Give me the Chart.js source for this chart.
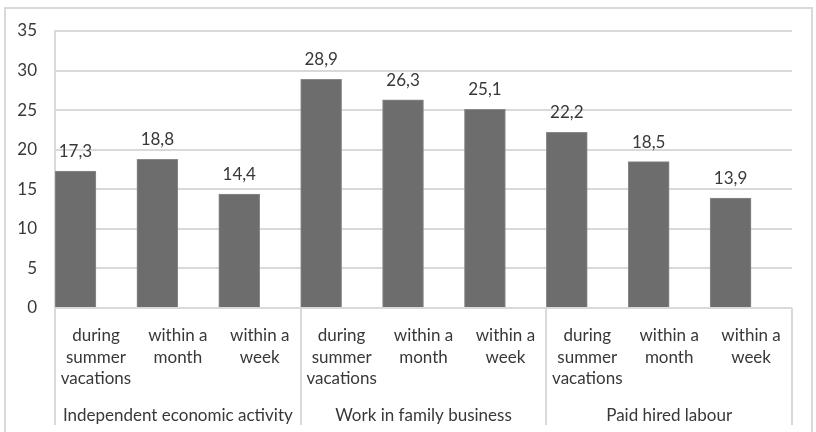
<!DOCTYPE html>
<html>
<head>
<meta charset="utf-8">
<script src="https://cdn.jsdelivr.net/npm/chart.js@4/dist/chart.umd.min.js"></script>
<style>
  html, body { margin: 0; padding: 0; background: #fff; }
  #wrap { width: 816px; height: 432px; position: relative; }
</style>
</head>
<body>
<div id="wrap"><canvas id="chart"></canvas></div>
<script>
var periods = [
  ["during", "summer", "vacations"], ["within a", "month"], ["within a", "week"],
  ["during", "summer", "vacations"], ["within a", "month"], ["within a", "week"],
  ["during", "summer", "vacations"], ["within a", "month"], ["within a", "week"]
];
var groups = ["Independent economic activity", "Work in family business", "Paid hired labour"];
var shares = [17.3, 18.8, 14.4, 28.9, 26.3, 25.1, 22.2, 18.5, 13.9];
var yTicks = [0, 5, 10, 15, 20, 25, 30, 35];

var textColor = "#383838";
var lineColor = "#d9d9d9";
var fontFamily = "Lato, 'Noto Sans', sans-serif";

// frame round the whole picture
var framePlugin = {
  id: "frame",
  beforeDraw: function (chart) {
    var ctx = chart.ctx;
    ctx.save();
    ctx.fillStyle = "#fff";
    ctx.fillRect(0, 0, chart.width, chart.height);
    ctx.strokeStyle = lineColor;
    ctx.lineWidth = 2;
    ctx.strokeRect(5, 8, 807, 440);
    ctx.restore();
  }
};

// value labels above the bars
var valuePlugin = {
  id: "values",
  afterDatasetsDraw: function (chart) {
    var ctx = chart.ctx;
    var meta = chart.getDatasetMeta(0);
    ctx.save();
    ctx.font = "17px " + fontFamily;
    ctx.fillStyle = textColor;
    ctx.textAlign = "center";
    ctx.textBaseline = "alphabetic";
    meta.data.forEach(function (bar, i) {
      var v = chart.data.datasets[0].data[i];
      ctx.fillText(v.toFixed(1).replace(".", ","), bar.x, bar.y - 14);
    });
    ctx.restore();
  }
};

var ctx = document.getElementById("chart").getContext("2d");
new Chart(ctx, {
  type: "bar",
  data: {
    labels: periods,
    datasets: [
      {
        data: shares,
        backgroundColor: "#6d6d6d",
        borderColor: "#8a8a8a",
        borderWidth: 1,
        categoryPercentage: 1,
        barPercentage: 1
      },
      {
        // empty slot: bars sit in the left half of each category
        data: shares.map(function () { return null; }),
        backgroundColor: "transparent",
        categoryPercentage: 1,
        barPercentage: 1
      }
    ]
  },
  options: {
    responsive: true,
    maintainAspectRatio: false,
    animation: false,
    layout: { padding: { left: 0, top: 31, right: 24, bottom: 0 } },
    plugins: {
      legend: { display: false },
      tooltip: { enabled: false }
    },
    scales: {
      y: {
        min: 0,
        max: 35,
        afterBuildTicks: function (scale) {
          scale.ticks = yTicks.map(function (v) { return { value: v }; });
        },
        afterFit: function (scale) { scale.width = 55; },
        grid: { color: lineColor, lineWidth: 2, drawTicks: false },
        border: { display: true, color: lineColor, width: 2 },
        ticks: {
          padding: 18,
          color: textColor,
          font: { family: fontFamily, size: 17 }
        }
      },
      x: {
        position: "bottom",
        afterFit: function (scale) { scale.height = 90; },
        grid: {
          offset: true,
          drawOnChartArea: false,
          drawTicks: true,
          tickLength: 117,
          lineWidth: 2,
          color: function (c) {
            return (c.index === undefined || c.index % 3 === 0) ? lineColor : "transparent";
          }
        },
        border: { display: false },
        ticks: {
          padding: -100,
          maxRotation: 0,
          autoSkip: false,
          color: textColor,
          font: { family: fontFamily, size: 17, lineHeight: 1.27 }
        }
      },
      x2: {
        type: "category",
        position: "bottom",
        labels: groups,
        offset: true,
        afterFit: function (scale) { scale.height = 34; },
        grid: { display: false },
        border: { display: false },
        ticks: {
          padding: -1,
          maxRotation: 0,
          color: textColor,
          font: { family: fontFamily, size: 17, lineHeight: 1.27 }
        }
      }
    }
  },
  plugins: [framePlugin, valuePlugin]
});
</script>
</body>
</html>
